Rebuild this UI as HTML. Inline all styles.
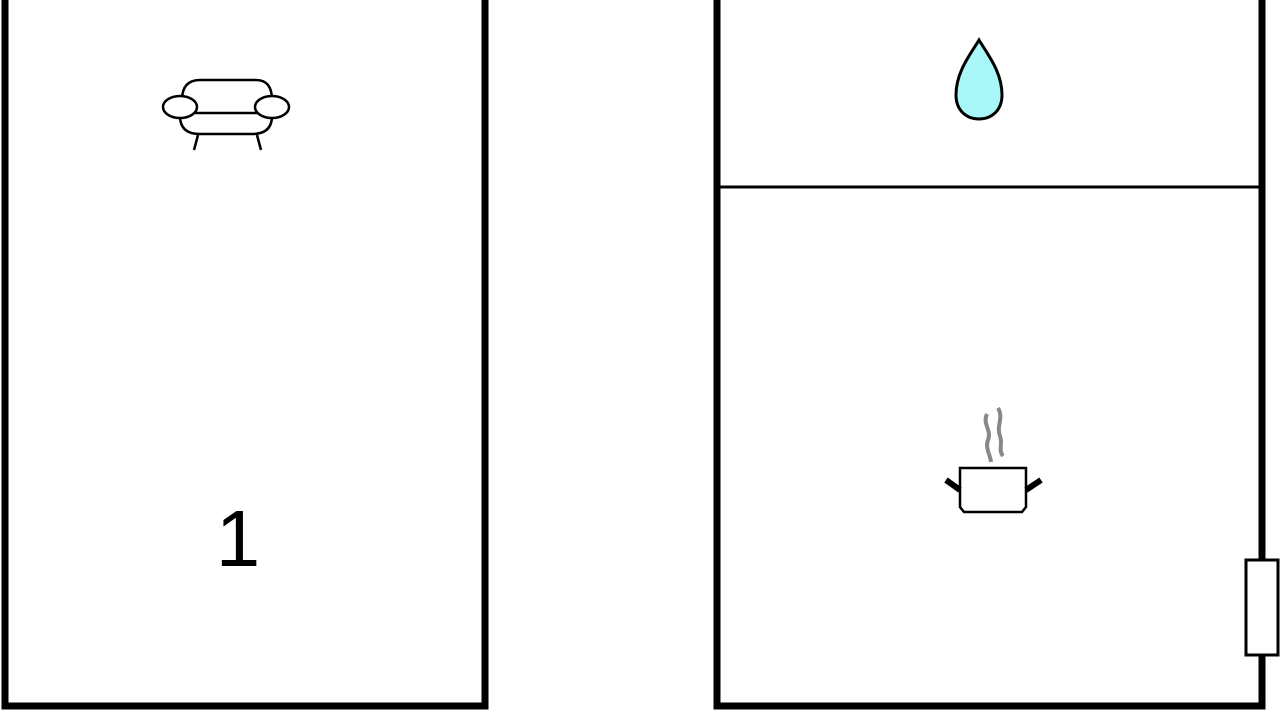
<!DOCTYPE html>
<html><head><style>body{margin:0;background:#fff}svg{display:block}</style></head>
<body>
<svg width="1280" height="720" viewBox="0 0 1280 720" xmlns="http://www.w3.org/2000/svg">
<rect width="1280" height="720" fill="#fff"/>
<g fill="none" stroke="#000" stroke-width="7">
<polyline points="5,-5 5,706 485,706 485,-5"/>
<polyline points="717,-5 717,706 1262,706 1262,-5"/>
</g>
<line x1="717" y1="187" x2="1262" y2="187" stroke="#000" stroke-width="3"/>
<rect x="1246" y="560" width="32" height="95" fill="#fff" stroke="#000" stroke-width="3"/>
<g fill="none" stroke="#000" stroke-width="2.5">
<path d="M182,100 Q182,80 200,80 L256,80 Q272,80 272,100"/>
<path d="M180,116 Q180,134 200,134 L252,134 Q272,134 272,116"/>
<line x1="192" y1="113" x2="260" y2="113"/>
<ellipse cx="180" cy="107" rx="17" ry="11" fill="#fff"/>
<ellipse cx="272" cy="107" rx="17" ry="11" fill="#fff"/>
<line x1="198" y1="135" x2="194" y2="150"/>
<line x1="257" y1="135" x2="261" y2="150"/>
</g>
<text x="238" y="566" font-family="Liberation Sans, sans-serif" font-size="80" text-anchor="middle">1</text>
<path d="M979,40 C970,55 956,72 956,95 C956,110 966,119 979,119 C992,119 1002,110 1002,95 C1002,72 988,55 979,40 Z" fill="#aaf7fa" stroke="#000" stroke-width="3"/>
<g fill="none" stroke="#888" stroke-width="4">
<path d="M987,414 C982,424 992,430 988,440 C985,448 990,454 991,462"/>
<path d="M998,408 C1004,418 996,426 1000,436 C1003,444 998,450 1003,456"/>
</g>
<path d="M960,468 L1026,468 L1026,507 L1022,512 L964,512 L960,507 Z" fill="#fff" stroke="#000" stroke-width="2.5"/>
<line x1="946" y1="480" x2="960" y2="490" stroke="#000" stroke-width="6"/>
<line x1="1026" y1="490" x2="1041" y2="480" stroke="#000" stroke-width="6"/>
</svg>
</body></html>
